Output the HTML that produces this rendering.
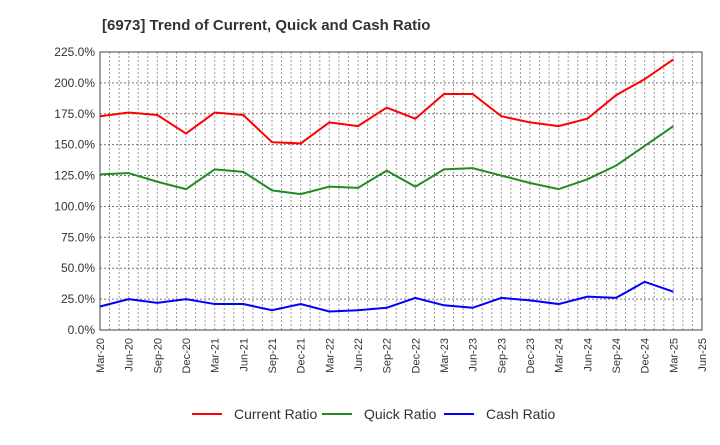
<!DOCTYPE html>
<html><head><meta charset="utf-8"><style>
body{margin:0;background:#fff;font-family:"Liberation Sans",sans-serif}
svg text{font-family:"Liberation Sans",sans-serif}
</style></head><body>
<svg id="c" width="720" height="440" xmlns="http://www.w3.org/2000/svg">
<text x="102" y="30" font-size="15" font-weight="bold" fill="#333">[6973]  Trend of Current, Quick and Cash Ratio</text>
<g id="grid"></g><g id="axes"></g><g id="series"></g><g id="legend"></g>
</svg>
<script>
const xLabels=["Mar-20","Jun-20","Sep-20","Dec-20","Mar-21","Jun-21","Sep-21","Dec-21","Mar-22","Jun-22","Sep-22","Dec-22","Mar-23","Jun-23","Sep-23","Dec-23","Mar-24","Jun-24","Sep-24","Dec-24","Mar-25","Jun-25"];
const yTicks=[0,25,50,75,100,125,150,175,200,225];
const currentRatio=[173,176,174,159,176,174,152,151,168,165,180,171,191,191,173,168,165,171,190,203,219];
const quickRatio=[126,127,120,114,130,128,113,110,116,115,129,116,130,131,125,119,114,122,133,149,165];
const cashRatio=[19,25,22,25,21,21,16,21,15,16,18,26,20,18,26,24,21,27,26,39,31];
const NS="http://www.w3.org/2000/svg";
const L=100,R=702,T=52,B=330;
const x=i=>L+(R-L)*i/(xLabels.length-1);
const y=v=>B-(B-T)*v/225;
function mk(tag,attrs,parent){const e=document.createElementNS(NS,tag);for(const k in attrs)e.setAttribute(k,attrs[k]);parent.appendChild(e);return e;}
const grid=document.getElementById('grid'),axes=document.getElementById('axes'),ser=document.getElementById('series'),leg=document.getElementById('legend');
for(let i=0;i<xLabels.length;i++){
  for(let k=0;k<3;k++){const xx=x(i)+(x(1)-x(0))*k/3;if(xx>R-1)continue;if(i===0&&k===0)continue;
    const g=mk('line',{x1:xx,x2:xx,y1:T,y2:B,stroke:'#999','stroke-width':1,'stroke-dasharray':'2,2'},grid);
    }
  const t=mk('text',{x:0,y:0,'font-size':11,fill:'#333','text-anchor':'end',transform:`translate(${x(i)+4},${B+8}) rotate(-90)`},axes);
  t.textContent=xLabels[i];
  
}
yTicks.forEach(v=>{
  if(v>0){const g=mk('line',{x1:L,x2:R,y1:y(v),y2:y(v),stroke:'#777','stroke-width':1,'stroke-dasharray':'2,2'},grid);
  }
  const t=mk('text',{x:L-5,y:y(v)+4,'font-size':12,fill:'#333','text-anchor':'end'},axes);
  t.textContent=v.toFixed(1)+'%';
  
});
const fr=mk('rect',{x:L,y:T,width:R-L,height:B-T,fill:'none',stroke:'#444','stroke-width':1},axes);

const series=[[currentRatio,'#ff0000','Current Ratio','current-ratio-line',222],[quickRatio,'#228b22','Quick Ratio','quick-ratio-line',352],[cashRatio,'#0000ff','Cash Ratio','cash-ratio-line',474]];
series.forEach(([d,c,n,dn,lx])=>{
  const p=mk('polyline',{points:d.map((v,i)=>x(i)+','+y(v)).join(' '),fill:'none',stroke:c,'stroke-width':2},ser);
  
  const ln=mk('line',{x1:lx-30,x2:lx,y1:414,y2:414,stroke:c,'stroke-width':2},leg);
  
  const t=mk('text',{x:lx+12,y:419,'font-size':14,fill:'#333'},leg);t.textContent=n;
  
});
</script>
</body></html>
